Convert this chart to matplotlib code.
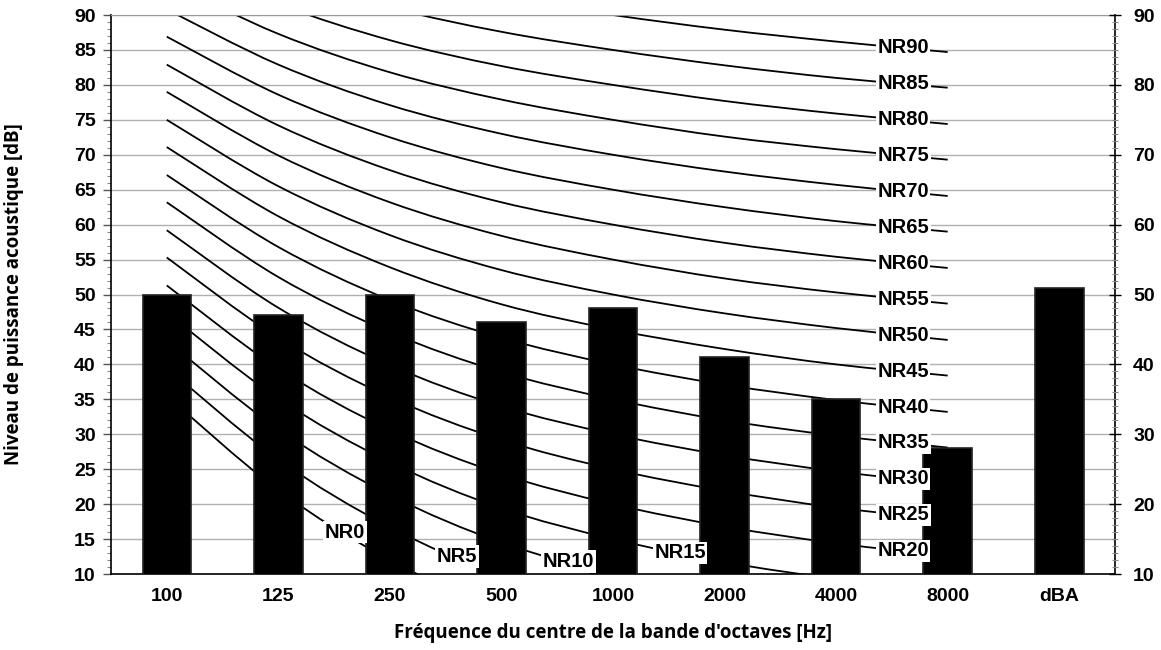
import matplotlib
matplotlib.use("Agg")
import matplotlib.pyplot as plt
from matplotlib.path import Path
from matplotlib.patches import PathPatch
from matplotlib.ticker import MultipleLocator
import numpy as np

plt.rcParams["font.family"] = ["Liberation Sans", "DejaVu Sans"]

categories = ["100", "125", "250", "500", "1000", "2000", "4000", "8000", "dBA"]
levels = [50, 47, 50, 46, 48, 41, 35, 28, 51]

# courbes NR (valeurs lues par bande, du 1er point au 8000)
nr_names = ["NR0", "NR5", "NR10", "NR15", "NR20", "NR25", "NR30", "NR35", "NR40",
            "NR45", "NR50", "NR55", "NR60", "NR65", "NR70", "NR75", "NR80", "NR85", "NR90"]
nr_values = [
    [35.5, 22.0, 12.0, 4.8, 0.0, -3.5, -6.1, -8.0],
    [39.5, 26.4, 16.7, 9.7, 5.0, 1.6, -1.0, -2.9],
    [43.4, 30.7, 21.3, 14.5, 10.0, 6.7, 4.2, 2.3],
    [47.4, 35.1, 26.0, 19.4, 15.0, 11.7, 9.3, 7.5],
    [51.3, 39.4, 30.6, 24.3, 20.0, 16.8, 14.4, 12.6],
    [55.3, 43.8, 35.3, 29.2, 25.0, 21.9, 19.5, 17.8],
    [59.2, 48.1, 39.9, 34.0, 30.0, 27.0, 24.7, 22.9],
    [63.2, 52.5, 44.6, 38.9, 35.0, 32.0, 29.8, 28.1],
    [67.1, 56.8, 49.2, 43.8, 40.0, 37.1, 34.9, 33.2],
    [71.1, 61.2, 53.9, 48.6, 45.0, 42.2, 40.0, 38.4],
    [75.0, 65.5, 58.5, 53.5, 50.0, 47.3, 45.2, 43.5],
    [79.0, 69.9, 63.2, 58.4, 55.0, 52.3, 50.3, 48.7],
    [82.9, 74.2, 67.8, 63.2, 60.0, 57.4, 55.4, 53.8],
    [86.9, 78.6, 72.5, 68.1, 65.0, 62.5, 60.5, 59.0],
    [90.8, 82.9, 77.1, 73.0, 70.0, 67.6, 65.7, 64.1],
    [94.8, 87.3, 81.8, 77.9, 75.0, 72.6, 70.8, 69.3],
    [98.7, 91.6, 86.4, 82.7, 80.0, 77.7, 75.9, 74.4],
    [102.7, 96.0, 91.1, 87.6, 85.0, 82.8, 81.0, 79.6],
    [106.6, 100.3, 95.7, 92.5, 90.0, 87.9, 86.2, 84.7],
]
# segment (index de depart) ou l'etiquette est posee
label_segment = [1, 2, 3, 4] + [6] * 15


def smooth_path(xs, ys):
    # courbe lissee (style "ligne lissee" d'Excel) passant par les points
    pts = np.column_stack([xs, ys]).astype(float)
    n = len(pts)
    verts = [pts[0]]
    codes = [Path.MOVETO]
    for i in range(n - 1):
        p0 = pts[max(i - 1, 0)]
        p1 = pts[i]
        p2 = pts[i + 1]
        p3 = pts[min(i + 2, n - 1)]
        verts += [p1 + (p2 - p0) / 6, p2 - (p3 - p1) / 6, p2]
        codes += [Path.CURVE4] * 3
    return Path(verts, codes)


fig = plt.figure(figsize=(11.61, 6.5), dpi=100)
ax = fig.add_axes([0.0956, 0.1169, 0.8648, 0.86])

x = np.arange(len(categories))
ax.set_xlim(-0.5, len(categories) - 0.5)
ax.set_ylim(10, 90)

for vals in nr_values:
    patch = PathPatch(smooth_path(x[:len(vals)], vals), facecolor="none",
                      edgecolor="black", lw=1.3, zorder=2)
    ax.add_patch(patch)

ax.bar(x, levels, width=0.435, bottom=0, color="black", edgecolor="#222222",
       lw=1.2, zorder=3)

for name, vals, seg in zip(nr_names, nr_values, label_segment):
    f = 0.6
    lx = seg + f
    ly = vals[seg] + f * (vals[seg + 1] - vals[seg])
    ax.text(lx, ly, name, ha="center", va="center", fontsize=14.5, fontweight="bold",
            zorder=4, bbox=dict(facecolor="white", edgecolor="none", pad=1.2))

ax.set_yticks(range(10, 91, 5))
ax.yaxis.set_minor_locator(MultipleLocator(1))
ax.grid(axis="y", color="#b0b0b0", lw=1, zorder=0)
ax.set_axisbelow(True)
ax.tick_params(axis="y", which="major", length=6, width=1, color="#555555", labelsize=14, pad=5)
ax.tick_params(axis="y", which="minor", length=3, width=0.8, color="#888888")
for lbl in ax.get_yticklabels():
    lbl.set_fontweight("bold")

ax.set_xticks(x)
ax.set_xticklabels(categories, fontsize=14, fontweight="bold")
ax.tick_params(axis="x", length=0, pad=10)

ax.spines["top"].set_color("#999999")
for s in ["left", "bottom", "right"]:
    ax.spines[s].set_color("black")
    ax.spines[s].set_linewidth(1.2)

ax2 = ax.twinx()
ax2.set_ylim(10, 90)
ax2.set_yticks(range(10, 91, 10))
ax2.yaxis.set_minor_locator(MultipleLocator(1))
ax2.tick_params(axis="y", which="major", direction="inout", length=8, width=1, color="black",
                labelsize=14, pad=9)
ax2.tick_params(axis="y", which="minor", direction="inout", length=5, width=0.8, color="#888888")
for lbl in ax2.get_yticklabels():
    lbl.set_fontweight("bold")
for s in ax2.spines.values():
    s.set_visible(False)

title_font = ["Open Sans", "DejaVu Sans"]
ax.set_ylabel("Niveau de puissance acoustique [dB]", fontsize=13.5, fontweight="bold",
              family=title_font)
ax.yaxis.set_label_coords(-0.087, 0.5)
ax.set_xlabel("Fréquence du centre de la bande d'octaves [Hz]", fontsize=13.5,
              fontweight="bold", family=title_font, labelpad=13)

fig.savefig("out.png", dpi=100)
